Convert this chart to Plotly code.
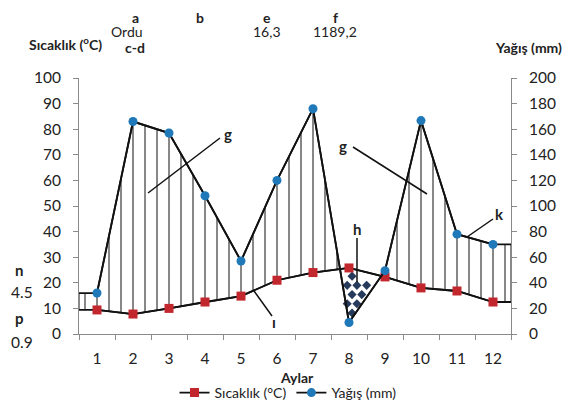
import numpy as np
import plotly.graph_objects as go

# ---------------- data ----------------
months = list(range(1, 13))
month_labels = [str(m) for m in months]
temperature = [9.4, 7.8, 10.0, 12.5, 14.8, 21.0, 24.0, 25.8, 22.3, 18.0, 16.8, 12.5]   # °C
precipitation = [32, 166, 157, 108, 57, 120, 176, 9, 49.5, 166.7, 78, 70]            # mm
station = "Ordu"
mean_temp_text = "16,3"
total_precip_text = "1189,2"
n_text = "4.5"
p_text = "0.9"
temp_ticks = list(range(0, 101, 10))
precip_ticks = list(range(0, 201, 20))

# ---------------- geometry helpers ----------------
# the page body has an 8px margin, so the figure is offset by (8, 8) in the window
OFF = 8
WIN_W, WIN_H = 571, 405
W, H = WIN_W - OFF, WIN_H - OFF
PLOT_X0, PLOT_X1, PLOT_Y0, PLOT_Y1 = 79, 511, 78, 334   # plot area in window pixels
L = PLOT_X0 - OFF
R = W - (PLOT_X1 - OFF)
T = PLOT_Y0 - OFF
B = H - (PLOT_Y1 - OFF)
PW, PH = PLOT_X1 - PLOT_X0, PLOT_Y1 - PLOT_Y0


def px(x):
    return (x - PLOT_X0) / PW


def py(y):
    return (PLOT_Y1 - y) / PH


FONT = "Lato"
TXT = "#222222"
AX = "#8a8a8a"
TICK_SIZE = 15.5

# extended curves (flat to plot edges)
x_ext = [0.5] + months + [12.5]
t_ext = [temperature[0]] + temperature + [temperature[-1]]
p_ext = [precipitation[0]] + precipitation + [precipitation[-1]]
p_half = [v / 2 for v in p_ext]

# vertical hatch lines in humid period
hx = [0.5] + [k / 3 for k in range(2, 38)] + [12.5]
hxs, hys = [], []
for x in hx:
    tv = float(np.interp(x, x_ext, t_ext))
    pv = float(np.interp(x, x_ext, p_half))
    if pv > tv:
        hxs += [x, x, None]
        hys += [tv, pv, None]

# diamond pattern in dry period
dxs, dys = [], []
fine = np.linspace(0.5, 12.5, 2401)
tf = np.interp(fine, x_ext, t_ext)
pf = np.interp(fine, x_ext, p_half)
dry = fine[tf > pf]
if len(dry):
    x0, x1 = dry.min(), dry.max()
    dx, dy = 0.27, 3.6
    row = 0
    y = 1.0
    while y < 40:
        off = (dx / 2) if row % 2 else 0.0
        x = x0 + 0.06 + off
        while x <= x1:
            tv = float(np.interp(x, x_ext, t_ext))
            pv = float(np.interp(x, x_ext, p_half))
            if pv + 1.8 < y < tv - 2.0 and x0 + 0.06 < x < x1 - 0.06:
                dxs.append(x)
                dys.append(y)
            x += dx
        y += dy
        row += 1

fig = go.Figure()

fig.add_trace(go.Scatter(x=hxs, y=hys, mode="lines",
                         line=dict(color="#111111", width=1), showlegend=False,
                         hoverinfo="skip"))
fig.add_trace(go.Scatter(x=dxs, y=dys, mode="markers",
                         marker=dict(symbol="diamond", size=7, color="#263a5c"),
                         showlegend=False, hoverinfo="skip"))
# extended lines
fig.add_trace(go.Scatter(x=x_ext, y=t_ext, mode="lines",
                         line=dict(color="#111111", width=1.8), showlegend=False))
fig.add_trace(go.Scatter(x=x_ext, y=p_ext, mode="lines", yaxis="y2",
                         line=dict(color="#111111", width=1.8), showlegend=False))
# markers (legend)
fig.add_trace(go.Scatter(x=months, y=temperature, mode="lines+markers",
                         name="Sıcaklık (°C)",
                         line=dict(color="#111111", width=1.8),
                         marker=dict(symbol="square", size=9, color="#c1272d")))
fig.add_trace(go.Scatter(x=months, y=precipitation, mode="lines+markers", yaxis="y2",
                         name="Yağış (mm)",
                         line=dict(color="#111111", width=1.8),
                         marker=dict(symbol="circle", size=9, color="#1f78b8")))

ann = []


def txt(x, y, s, bold=False, size=14, xanchor="center"):
    ann.append(dict(x=px(x), y=py(y), xref="paper", yref="paper", text=(f"<b>{s}</b>" if bold else s),
                    showarrow=False, xanchor=xanchor, yanchor="middle",
                    font=dict(family=FONT, size=size, color=TXT)))


txt(65, 43, "Sıcaklık (<sup>o</sup>C)", bold=True)
txt(528, 47, "Yağış (mm)", bold=True)
txt(135, 17, "a", bold=True)
txt(127, 31, station)
txt(135, 47, "c-d", bold=True)
txt(200, 17, "b", bold=True)
txt(267, 17, "e", bold=True)
txt(267, 31, mean_temp_text)
txt(335, 17, "f", bold=True)
txt(335, 31, total_precip_text)
txt(13, 270, "n", bold=True, size=15, xanchor="left")
txt(9, 292, n_text, size=15.5, xanchor="left")
txt(13, 318, "p", bold=True, size=15, xanchor="left")
txt(9, 342, p_text, size=15.5, xanchor="left")
txt(228, 134, "g", bold=True, size=15)
txt(343, 146, "g", bold=True, size=15)
txt(357, 229, "h", bold=True, size=15)
txt(499, 214, "k", bold=True, size=15)
txt(274, 322, "ı", bold=True, size=15)
txt(297, 377, "Aylar", bold=True)

shapes = []


def seg(x0, y0, x1, y1):
    shapes.append(dict(type="line", xref="paper", yref="paper",
                       x0=px(x0), y0=py(y0), x1=px(x1), y1=py(y1),
                       line=dict(color="#111111", width=1.5)))


seg(220, 138, 148, 193)
seg(353, 147, 427, 194)
seg(493, 219, 467, 237)
seg(357, 238, 357, 282)
seg(254, 291, 272, 316)

fig.update_layout(
    width=W, height=H,
    margin=dict(l=L, r=R, t=T, b=B, autoexpand=False),
    paper_bgcolor="white", plot_bgcolor="white",
    font=dict(family=FONT, size=14, color=TXT),
    xaxis=dict(range=[0.5, 12.5], tickmode="array", tickvals=months, ticktext=month_labels,
               showline=True, linecolor=AX, linewidth=1, ticks="", showgrid=False, zeroline=False,
               minor=dict(tickmode="array", tickvals=[0.5 + i for i in range(13)],
                          ticks="outside", ticklen=5, tickcolor=AX),
               ticklabelstandoff=10, automargin=False,
               tickfont=dict(size=TICK_SIZE, color=TXT)),
    yaxis=dict(range=[0, 100], tickvals=temp_ticks, showline=True, linecolor=AX,
               ticks="outside", ticklen=5, tickcolor=AX, showgrid=False, zeroline=False,
               ticklabelstandoff=9, automargin=False,
               tickfont=dict(size=TICK_SIZE, color=TXT)),
    yaxis2=dict(range=[0, 200], tickvals=precip_ticks, overlaying="y", side="right",
                showline=True, linecolor=AX, ticks="outside", ticklen=5, tickcolor=AX,
                ticklabelstandoff=9, automargin=False,
                showgrid=False, zeroline=False, tickfont=dict(size=TICK_SIZE, color=TXT)),
    legend=dict(orientation="h", x=px(288), xanchor="center", y=py(377), yanchor="top",
                font=dict(size=14, color=TXT), bgcolor="rgba(0,0,0,0)",
                itemwidth=30, tracegroupgap=0),
    annotations=ann,
    shapes=shapes,
)

fig.write_html("out.html")
